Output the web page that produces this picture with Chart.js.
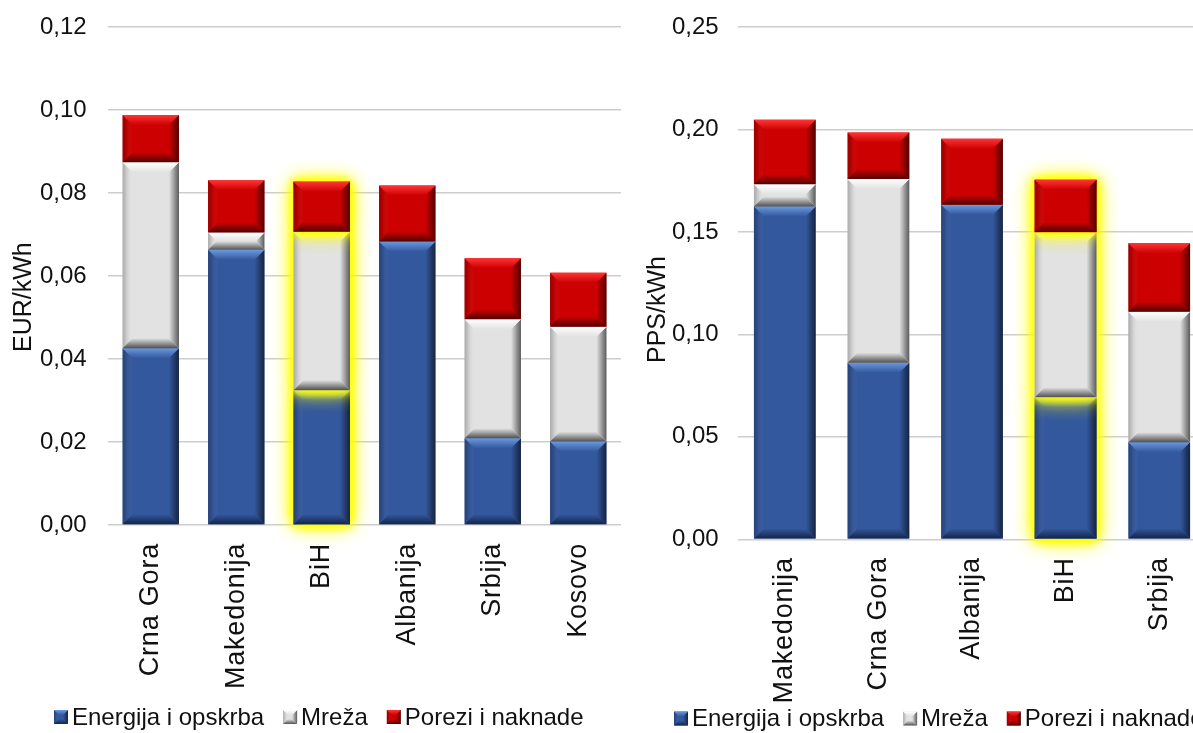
<!DOCTYPE html>
<html>
<head>
<meta charset="utf-8">
<script src="https://cdn.jsdelivr.net/npm/chart.js@4.4.1/dist/chart.umd.min.js"></script>
<style>
html,body{margin:0;padding:0;background:#fff;overflow:hidden;width:1193px;height:733px;}
#left{position:absolute;left:0;top:0;width:647px;height:733px;}
#right{position:absolute;left:640px;top:0;width:607px;height:733px;}
</style>
</head>
<body>
<div id="left"><canvas id="c1"></canvas></div>
<div id="right"><canvas id="c2"></canvas></div>
<script>
// ---------- DATA ----------
const seriesNames = ['Energija i opskrba', 'Mreža', 'Porezi i naknade'];

// Left chart: EUR/kWh
const eurCategories = ['Crna Gora', 'Makedonija', 'BiH', 'Albanija', 'Srbija', 'Kosovo'];
const eurEnergija   = [0.0426, 0.0663, 0.0325, 0.0683, 0.0209, 0.0201];
const eurMreza      = [0.0448, 0.0042, 0.0382, 0.0000, 0.0287, 0.0277];
const eurPorezi     = [0.0114, 0.0126, 0.0120, 0.0135, 0.0147, 0.0130];
const eurAxisTitle  = 'EUR/kWh';
const eurAxisMax    = 0.12;
const eurAxisStep   = 0.02;

// Right chart: PPS/kWh
const ppsCategories = ['Makedonija', 'Crna Gora', 'Albanija', 'BiH', 'Srbija'];
const ppsEnergija   = [0.1624, 0.0862, 0.1632, 0.0693, 0.0474];
const ppsMreza      = [0.0109, 0.0896, 0.0000, 0.0806, 0.0637];
const ppsPorezi     = [0.0314, 0.0227, 0.0323, 0.0255, 0.0334];
const ppsAxisTitle  = 'PPS/kWh';
const ppsAxisMax    = 0.25;
const ppsAxisStep   = 0.05;

const highlightCategory = 'BiH';

// ---------- STYLE ----------
const FONT = '"Liberation Sans", Arial, sans-serif';
const baseColors = ['#34589E', '#E2E2E2', '#CC0000'];
const hiColors   = ['#6A98DE', '#FFFFFF', '#FF3434'];
const loColors   = ['#14244A', '#505050', '#520000'];

function poly(ctx, pts, fill) {
  ctx.beginPath();
  ctx.moveTo(pts[0][0], pts[0][1]);
  for (let i = 1; i < pts.length; i++) ctx.lineTo(pts[i][0], pts[i][1]);
  ctx.closePath();
  ctx.fillStyle = fill;
  ctx.fill();
}

function shade(ctx, l, t, r, b, di, maxBevel) {
  const w = r - l, h = b - t;
  const bv = Math.min(maxBevel, h / 2, w / 2);
  let g;
  g = ctx.createLinearGradient(r - bv, 0, r, 0);
  g.addColorStop(0, 'rgba(0,0,0,0)');
  g.addColorStop(1, 'rgba(0,0,0,0.6)');
  poly(ctx, [[r - bv, t + bv], [r, t], [r, b], [r - bv, b - bv]], g);
  g = ctx.createLinearGradient(l, 0, l + bv, 0);
  g.addColorStop(0, 'rgba(0,0,0,0.25)');
  g.addColorStop(0.35, 'rgba(0,0,0,0.12)');
  g.addColorStop(1, 'rgba(255,255,255,0)');
  poly(ctx, [[l, t], [l + bv, t + bv], [l + bv, b - bv], [l, b]], g);
  g = ctx.createLinearGradient(0, t, 0, t + bv);
  g.addColorStop(0, hiColors[di]);
  g.addColorStop(1, baseColors[di]);
  poly(ctx, [[l, t], [r, t], [r - bv, t + bv], [l + bv, t + bv]], g);
  g = ctx.createLinearGradient(0, b - bv, 0, b);
  g.addColorStop(0, baseColors[di]);
  g.addColorStop(1, loColors[di]);
  poly(ctx, [[l, b], [r, b], [r - bv, b - bv], [l + bv, b - bv]], g);
}

const bevelPlugin = {
  id: 'bevel',
  afterDatasetsDraw(chart) {
    const ctx = chart.ctx;
    const labels = chart.data.labels;
    chart.data.datasets.forEach((ds, di) => {
      const meta = chart.getDatasetMeta(di);
      meta.data.forEach((el, i) => {
        const p = el.getProps(['x', 'y', 'base', 'width'], true);
        const l = p.x - p.width / 2, r = p.x + p.width / 2;
        const t = Math.min(p.y, p.base), b = Math.max(p.y, p.base);
        if (b - t < 0.5) return;
        if (labels[i] === highlightCategory) {
          ctx.save();
          ctx.shadowColor = 'rgba(255,255,0,1)';
          ctx.fillStyle = baseColors[di];
          ctx.shadowBlur = 20;
          for (let k = 0; k < 2; k++) ctx.fillRect(l, t, r - l, b - t);
          ctx.shadowBlur = 9;
          for (let k = 0; k < 3; k++) ctx.fillRect(l, t, r - l, b - t);
          ctx.restore();
        }
        ctx.save();
        shade(ctx, l, t, r, b, di, 10);
        ctx.restore();
      });
    });
  }
};

const axisTitlePlugin = {
  id: 'axisTitle',
  afterDraw(chart, args, opts) {
    const ctx = chart.ctx;
    ctx.save();
    ctx.translate(opts.x, opts.y);
    ctx.rotate(-Math.PI / 2);
    ctx.font = '25px ' + FONT;
    ctx.fillStyle = '#111';
    ctx.textAlign = 'left';
    ctx.textBaseline = 'alphabetic';
    ctx.fillText(opts.text, 0, 0);
    ctx.restore();
  }
};

const legendPlugin = {
  id: 'boxLegend',
  afterDraw(chart, args, opts) {
    const ctx = chart.ctx;
    ctx.save();
    ctx.font = '24px ' + FONT;
    const box = 14, gapText = 4, gapItem = 19;
    const items = chart.data.datasets.map((ds, i) => ({ text: ds.label, w: ctx.measureText(ds.label).width, i }));
    let x = opts.startX;
    const y = opts.cy;
    items.forEach(it => {
      ctx.fillStyle = baseColors[it.i];
      ctx.fillRect(x, y - box / 2, box, box);
      shade(ctx, x, y - box / 2, x + box, y + box / 2, it.i, 5);
      ctx.fillStyle = '#111';
      ctx.textBaseline = 'middle';
      ctx.textAlign = 'left';
      ctx.fillText(it.text, x + box + gapText, y + 1);
      x += box + gapText + it.w + gapItem;
    });
    ctx.restore();
  }
};

const spacedLabelsPlugin = {
  id: 'spacedLabels',
  beforeDraw(chart) {
    const s = chart.scales.x;
    if (s && !s._spaced) {
      const orig = s.drawLabels;
      s.drawLabels = function (area) {
        const c = this.ctx;
        c.save();
        c.letterSpacing = '0.8px';
        orig.call(this, area);
        c.restore();
      };
      s._spaced = true;
    }
  }
};

function makeChart(canvasId, categories, energija, mreza, porezi, axisMax, axisStep, cfg) {
  const values = [energija, mreza, porezi];
  return new Chart(document.getElementById(canvasId), {
    type: 'bar',
    data: {
      labels: categories,
      datasets: seriesNames.map((name, i) => ({
        label: name,
        data: values[i],
        backgroundColor: baseColors[i],
        borderWidth: 0,
        barPercentage: 0.66,
        categoryPercentage: 1.0
      }))
    },
    options: {
      responsive: true,
      maintainAspectRatio: false,
      animation: false,
      devicePixelRatio: 1,
      layout: { padding: { top: 27, left: cfg.padLeft, right: cfg.padRight, bottom: 0 } },
      plugins: {
        tooltip: { enabled: false },
        legend: { display: false },
        boxLegend: { startX: cfg.legendStart, cy: cfg.legendY },
        axisTitle: { text: cfg.title, x: cfg.titleX, y: cfg.titleY }
      },
      scales: {
        x: {
          stacked: true,
          grid: { display: false, drawTicks: false },
          border: { display: false },
          ticks: {
            autoSkip: false, maxRotation: 90, minRotation: 90, padding: 18,
            color: '#111', font: { family: FONT, size: 27 }
          },
          afterFit(scale) { scale.height = cfg.xHeight; }
        },
        y: {
          stacked: true,
          min: 0, max: axisMax,
          grid: { color: '#cdcdcd', lineWidth: 1.5, drawTicks: false },
          border: { display: false },
          ticks: {
            stepSize: axisStep, padding: 0, crossAlign: 'far',
            color: '#111', font: { family: FONT, size: 24 },
            callback: v => v.toFixed(2).replace('.', ',')
          },
          afterFit(scale) { scale.width = cfg.yWidth; }
        }
      }
    },
    plugins: [bevelPlugin, axisTitlePlugin, legendPlugin, spacedLabelsPlugin]
  });
}

makeChart('c1', eurCategories, eurEnergija, eurMreza, eurPorezi, eurAxisMax, eurAxisStep,
  { padLeft: 40, padRight: 26, yWidth: 68, xHeight: 208,
    title: eurAxisTitle, titleX: 31, titleY: 352, legendStart: 54, legendY: 717 });
makeChart('c2', ppsCategories, ppsEnergija, ppsMreza, ppsPorezi, ppsAxisMax, ppsAxisStep,
  { padLeft: 32, padRight: 41, yWidth: 66, xHeight: 193.7,
    title: ppsAxisTitle, titleX: 25, titleY: 363, legendStart: 34, legendY: 718.5 });
</script>
</body>
</html>
